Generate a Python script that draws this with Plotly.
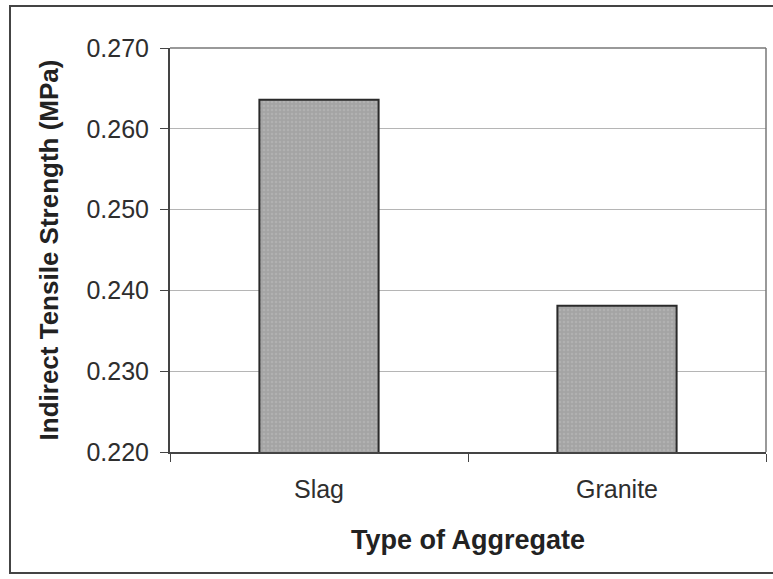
import plotly.graph_objects as go

categories = ["Slag", "Granite"]
strength = [0.2636, 0.2381]
y_ticks = [0.220, 0.230, 0.240, 0.250, 0.260, 0.270]
y_tick_labels = ["0.220", "0.230", "0.240", "0.250", "0.260", "0.270"]

fig = go.Figure()
fig.add_trace(go.Bar(
    x=categories, y=strength,
    marker=dict(color="#a9a9a9", line=dict(color="#2a2a2a", width=2),
                pattern=dict(shape=".", fgcolor="#bdbdbd", bgcolor="#a4a4a4", size=4, solidity=0.3)),
    width=0.4,
))

W, H = 773, 579
fig.update_layout(
    width=W, height=H,
    margin=dict(l=170, r=7, t=48, b=127),
    paper_bgcolor="white", plot_bgcolor="white",
    showlegend=False,
    font=dict(family="Liberation Sans, Arial, sans-serif", color="#2a2a2a"),
    xaxis=dict(
        type="category", tickson="boundaries", ticks="outside", ticklen=8, tickcolor="#444",
        showline=True, linecolor="#444", linewidth=2, mirror=False,
        tickfont=dict(size=25, color="#2e2e2e"), ticklabelstandoff=14,
        title=dict(text="<b>Type of Aggregate</b>", font=dict(size=27, color="#222"), standoff=28),
        showgrid=False,
    ),
    yaxis=dict(
        range=[0.220, 0.270], tickvals=y_ticks, ticktext=y_tick_labels,
        ticks="outside", ticklen=8, tickcolor="#444",
        showline=True, linecolor="#444", linewidth=2,
        tickfont=dict(size=25, color="#2e2e2e"), ticklabelstandoff=6,
        showgrid=True, gridcolor="#b5b5b5", gridwidth=1,
        title=dict(text="<b>Indirect Tensile Strength (MPa)</b>", font=dict(size=26, color="#222"), standoff=20),
        zeroline=False,
    ),
    shapes=[
        dict(type="line", xref="paper", yref="paper", x0=0, x1=1, y0=1, y1=1, line=dict(color="#777", width=1.5)),
        dict(type="line", xref="paper", yref="paper", x0=1, x1=1, y0=0, y1=1, line=dict(color="#777", width=1.5)),
        dict(type="rect", xref="paper", yref="paper",
             x0=(10 - 170) / (W - 177), x1=(790 - 170) / (W - 177),
             y0=(452 - 573) / (452 - 48), y1=(452 - 6) / (452 - 48),
             line=dict(color="#444", width=2), layer="below"),
    ],
)

fig.write_html("out.html")
